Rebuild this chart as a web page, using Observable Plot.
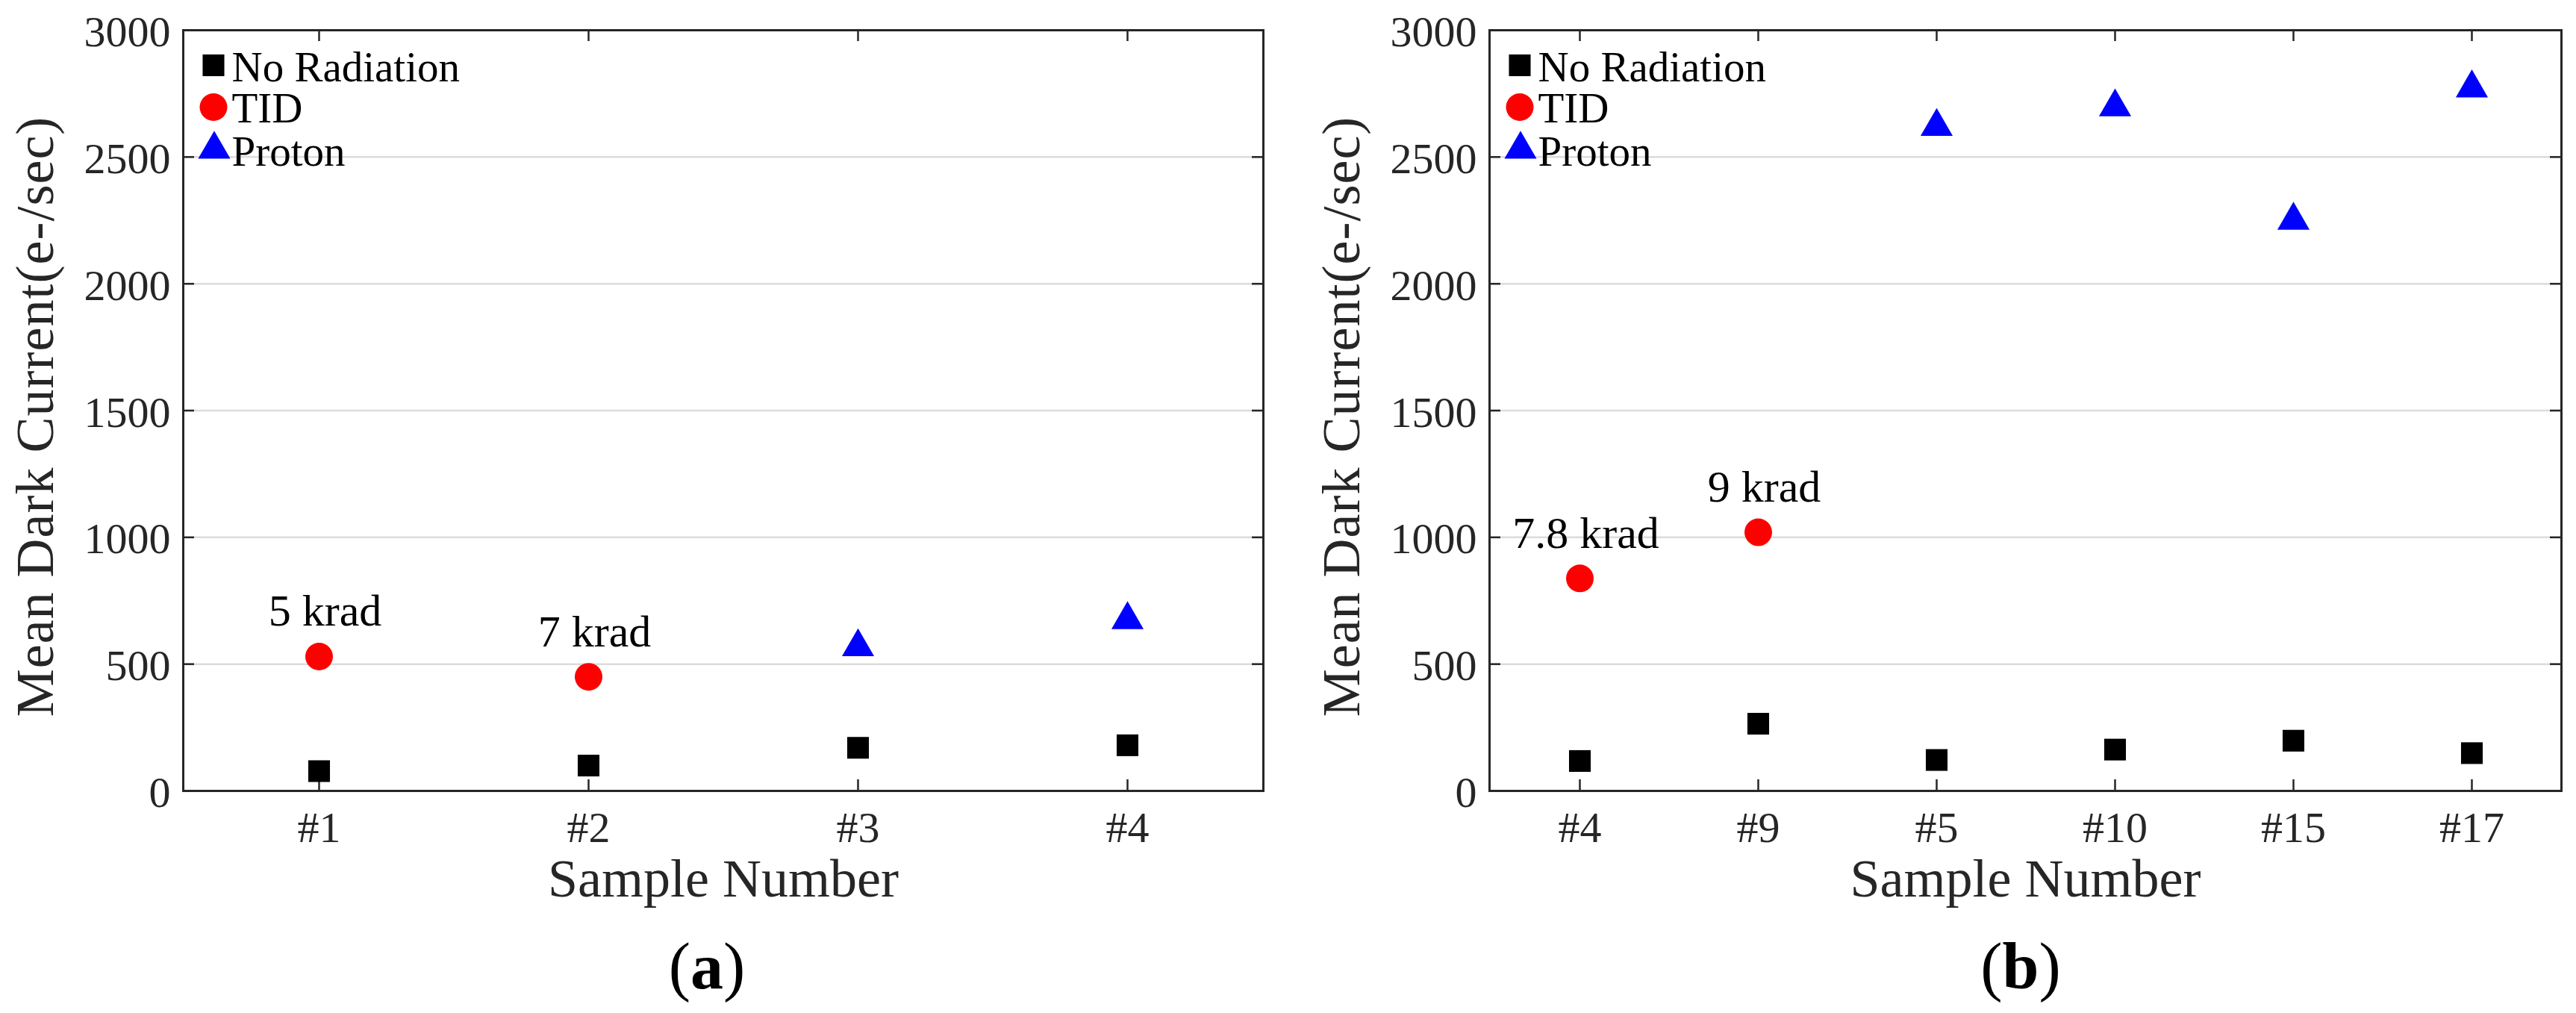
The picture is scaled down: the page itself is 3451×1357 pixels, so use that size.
<!DOCTYPE html>
<html>
<head>
<meta charset="utf-8">
<script src="https://cdn.jsdelivr.net/npm/d3@7"></script>
<script src="https://cdn.jsdelivr.net/npm/@observablehq/plot@0.6"></script>
<style>
  body { margin: 0; width: 3451px; height: 1357px; position: relative; background: white; overflow: hidden; }
  .panel { position: absolute; top: 0; }
  .caption { position: absolute; top: 1251px; font-family: "Liberation Serif", serif; font-size: 88px; line-height: 1; color: #000; transform: translateX(-50%); white-space: nowrap; }
</style>
</head>
<body>
<div id="panel-a" class="panel" style="left:0px;width:1725px"></div>
<div id="panel-b" class="panel" style="left:1725px;width:1726px"></div>
<div class="caption" style="left:947px">(<b>a</b>)</div>
<div class="caption" style="left:2707px">(<b>b</b>)</div>
<script>
// series shown in both panels
const seriesNames = ["No Radiation", "TID", "Proton"];
const yTicks = [0, 500, 1000, 1500, 2000, 2500, 3000];
const yGrid = [500, 1000, 1500, 2000, 2500];
const yLabel = "Mean Dark Current(e-/sec)";
const xLabel = "Sample Number";

// panel (a)
const samplesA = ["#1", "#2", "#3", "#4"];
const noRadA = [78, 100, 170, 180];
const tidA = [530, 450, null, null];
const protonA = [null, null, 568, 675];
const doseA = ["5 krad", "7 krad", null, null];

// panel (b)
const samplesB = ["#4", "#9", "#5", "#10", "#15", "#17"];
const noRadB = [118, 265, 122, 163, 198, 149];
const tidB = [838, 1020, null, null, null, null];
const protonB = [null, null, 2620, 2697, 2250, 2772];
const doseB = ["7.8 krad", "9 krad", null, null, null, null];

const FONT = "Liberation Serif";
const AXIS = "#262626";
const styleOf = {
  "No Radiation": {symbol: "square", fill: "black", r: 16.4},
  "TID": {symbol: "circle", fill: "#ff0000", r: 18.5},
  "Proton": {symbol: "triangle", fill: "#0000ff", r: 16}
};
// legend offsets from the top-left corner of the frame
const legendSymbolDx = [40.5, 40.5, 41.5];
const legendSymbolDy = [47, 103, 159.6];
const legendTextDy = [68, 123, 181];

function buildRows(samples, noRad, tid, proton, dose) {
  const rows = [];
  samples.forEach((s, i) => {
    if (noRad[i] != null) rows.push({sample: s, series: "No Radiation", value: noRad[i]});
    if (tid[i] != null) rows.push({sample: s, series: "TID", value: tid[i], dose: dose[i]});
    if (proton[i] != null) rows.push({sample: s, series: "Proton", value: proton[i]});
  });
  return rows;
}

function drawPanel(containerId, width, marginLeft, marginRight, samples, rows) {
  const height = 1240;
  const marginTop = 40;
  const marginBottom = 181;
  const plotW = width - marginLeft - marginRight;
  const plotH = height - marginTop - marginBottom;
  const tickLen = 15;

  let marks = [
    Plot.gridY(yGrid, {stroke: "#dcdcdc", strokeOpacity: 1, strokeWidth: 2.5}),
    // inward ticks on all four sides
    Plot.tickX(samples, {x: (d) => d, insetBottom: plotH - tickLen, stroke: AXIS, strokeWidth: 2.5}),
    Plot.tickX(samples, {x: (d) => d, insetTop: plotH - tickLen, stroke: AXIS, strokeWidth: 2.5}),
    Plot.tickY(yTicks, {y: (d) => d, insetRight: plotW - tickLen, stroke: AXIS, strokeWidth: 2.5}),
    Plot.tickY(yTicks, {y: (d) => d, insetLeft: plotW - tickLen, stroke: AXIS, strokeWidth: 2.5}),
    Plot.frame({stroke: AXIS, strokeWidth: 3}),
    Plot.axisY(yTicks, {tickSize: 0, tickPadding: 17, dy: 3, tickFormat: (d) => String(d), label: null}),
    Plot.axisX({tickSize: 0, tickPadding: 27, label: null}),
  ];

  seriesNames.forEach((name) => {
    const st = styleOf[name];
    marks.push(
      Plot.dot(rows.filter((d) => d.series === name), {
        x: "sample",
        y: "value",
        symbol: () => st.symbol,
        fill: st.fill,
        r: st.r,
      }),
    );
  });

  marks.push(
    Plot.text(rows.filter((d) => d.dose), {
      x: "sample",
      y: "value",
      text: "dose",
      dx: 8,
      dy: -41,
      lineAnchor: "bottom",
      fontSize: 60,
      fill: "black",
    }),
  );

  // legend in the top-left corner
  seriesNames.forEach((name, i) => {
    const st = styleOf[name];
    marks.push(
      Plot.dot([name], {
        frameAnchor: "top-left",
        dx: legendSymbolDx[i],
        dy: legendSymbolDy[i],
        symbol: () => st.symbol,
        fill: st.fill,
        r: st.r,
      }),
      Plot.text([name], {
        frameAnchor: "top-left",
        text: (d) => d,
        dx: 65,
        dy: legendTextDy[i],
        textAnchor: "start",
        lineAnchor: "bottom",
        fontSize: 57,
        fill: "black",
      }),
    );
  });

  marks.push(
    Plot.text([xLabel], {
      frameAnchor: "bottom",
      text: (d) => d,
      dy: 141,
      textAnchor: "middle",
      lineAnchor: "bottom",
      fontSize: 72,
      fill: AXIS,
    }),
    Plot.text([yLabel], {
      frameAnchor: "left",
      text: (d) => d,
      dx: -175,
      dy: 8,
      rotate: -90,
      textAnchor: "middle",
      lineAnchor: "bottom",
      fontSize: 72,
      fill: AXIS,
    }),
  );

  const chart = Plot.plot({
    width: width,
    height: height,
    marginLeft: marginLeft,
    marginRight: marginRight,
    marginTop: marginTop,
    marginBottom: marginBottom,
    style: {fontFamily: FONT, fontSize: "58px", color: AXIS, background: "white"},
    x: {type: "point", domain: samples, padding: 0.5},
    y: {type: "linear", domain: [0, 3000]},
    symbol: {type: "identity"},
    marks: marks,
  });

  // the original face sets the y title a little wider than Liberation Serif does
  d3.select(chart)
    .selectAll("text")
    .filter(function () {
      return this.textContent === yLabel;
    })
    .attr("letter-spacing", 1);

  document.getElementById(containerId).appendChild(chart);
}

drawPanel("panel-a", 1725, 245, 33, samplesA, buildRows(samplesA, noRadA, tidA, protonA, doseA));
drawPanel("panel-b", 1726, 270, 20, samplesB, buildRows(samplesB, noRadB, tidB, protonB, doseB));
</script>
</body>
</html>
